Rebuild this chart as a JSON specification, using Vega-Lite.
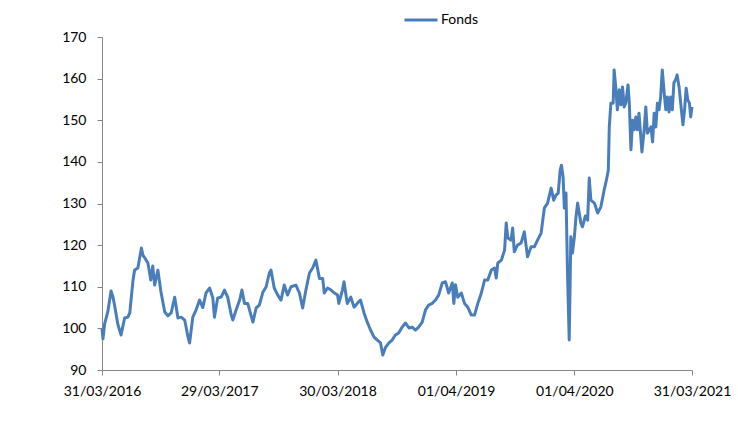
{
  "$schema": "https://vega.github.io/schema/vega-lite/v6.json",
  "width": 590,
  "height": 333,
  "autosize": {"type": "none"},
  "padding": {"left": 102, "top": 37, "right": 46, "bottom": 70},
  "background": "white",
  "config": {
    "view": {"stroke": null},
    "axis": {
      "labelFont": "Lato",
      "labelFontSize": 14,
      "labelColor": "#000000",
      "domainColor": "#868686",
      "tickColor": "#868686",
      "grid": false,
      "title": null
    },
    "legend": {
      "labelFont": "Lato",
      "labelFontSize": 14,
      "labelColor": "#000000"
    }
  },
  "data": {
    "values": [
      {"d":"2016-03-31","v":100},{"d":"2016-04-03","v":97.5},{"d":"2016-04-08","v":101},{"d":"2016-04-18","v":104},{"d":"2016-04-28","v":109},{"d":"2016-05-04","v":107.5},{"d":"2016-05-09","v":105.5},{"d":"2016-05-19","v":101},{"d":"2016-05-29","v":98.4},{"d":"2016-06-09","v":102.5},{"d":"2016-06-19","v":102.7},{"d":"2016-06-25","v":103.7},{"d":"2016-07-05","v":111.6},{"d":"2016-07-10","v":114},{"d":"2016-07-20","v":114.5},{"d":"2016-07-31","v":119.3},{"d":"2016-08-05","v":117.5},{"d":"2016-08-10","v":117},{"d":"2016-08-20","v":115.7},{"d":"2016-08-29","v":111.6},{"d":"2016-09-04","v":115},{"d":"2016-09-10","v":110.4},{"d":"2016-09-20","v":114},{"d":"2016-09-29","v":109},{"d":"2016-10-11","v":104},{"d":"2016-10-21","v":103},{"d":"2016-10-31","v":103.7},{"d":"2016-11-11","v":107.5},{"d":"2016-11-21","v":102.5},{"d":"2016-12-01","v":102.7},{"d":"2016-12-12","v":102},{"d":"2016-12-22","v":98},{"d":"2016-12-27","v":96.5},
      {"d":"2017-01-06","v":102.7},{"d":"2017-01-16","v":104.4},{"d":"2017-01-27","v":106.8},{"d":"2017-02-06","v":105},{"d":"2017-02-16","v":108.5},{"d":"2017-02-27","v":109.7},{"d":"2017-03-09","v":107.3},{"d":"2017-03-14","v":102.7},{"d":"2017-03-24","v":107.3},{"d":"2017-04-04","v":107.5},{"d":"2017-04-14","v":109.2},{"d":"2017-04-24","v":107.5},{"d":"2017-05-05","v":103.2},{"d":"2017-05-10","v":102},{"d":"2017-05-20","v":104.4},{"d":"2017-05-31","v":106.8},{"d":"2017-06-07","v":109.2},{"d":"2017-06-15","v":106},{"d":"2017-06-25","v":106},{"d":"2017-07-05","v":103.2},{"d":"2017-07-11","v":101.5},{"d":"2017-07-21","v":104.9},{"d":"2017-07-31","v":105.6},{"d":"2017-08-11","v":108.7},{"d":"2017-08-21","v":110},{"d":"2017-08-31","v":113.3},{"d":"2017-09-05","v":114},{"d":"2017-09-15","v":109.7},{"d":"2017-09-26","v":108},{"d":"2017-10-06","v":106.8},{"d":"2017-10-16","v":110.4},{"d":"2017-10-26","v":108},{"d":"2017-11-06","v":110},{"d":"2017-11-21","v":110.4},{"d":"2017-12-02","v":108.5},{"d":"2017-12-12","v":104.9},{"d":"2017-12-22","v":109.2},
      {"d":"2018-01-02","v":113.3},{"d":"2018-01-12","v":114.5},{"d":"2018-01-22","v":116.4},{"d":"2018-02-02","v":112},{"d":"2018-02-12","v":112},{"d":"2018-02-17","v":108.5},{"d":"2018-02-27","v":109.7},{"d":"2018-03-10","v":109.2},{"d":"2018-03-20","v":108.5},{"d":"2018-03-30","v":108},{"d":"2018-04-03","v":106},{"d":"2018-04-14","v":109.2},{"d":"2018-04-19","v":111.2},{"d":"2018-04-29","v":106},{"d":"2018-05-10","v":107.5},{"d":"2018-05-20","v":105.1},{"d":"2018-05-30","v":106},{"d":"2018-06-09","v":106.8},{"d":"2018-06-20","v":103.7},{"d":"2018-06-30","v":101.5},{"d":"2018-07-10","v":99.6},{"d":"2018-07-21","v":97.9},{"d":"2018-07-31","v":97.2},{"d":"2018-08-10","v":96.5},{"d":"2018-08-17","v":93.6},{"d":"2018-08-26","v":95.5},{"d":"2018-09-05","v":96.5},{"d":"2018-09-15","v":97.2},{"d":"2018-09-25","v":98.4},{"d":"2018-10-05","v":98.9},{"d":"2018-10-16","v":100.3},{"d":"2018-10-26","v":101.3},{"d":"2018-11-06","v":100.1},{"d":"2018-11-16","v":100.3},{"d":"2018-11-26","v":99.6},{"d":"2018-12-06","v":100.3},{"d":"2018-12-17","v":101.5},{"d":"2018-12-27","v":104.4},
      {"d":"2019-01-06","v":105.6},{"d":"2019-01-17","v":106},{"d":"2019-01-27","v":106.8},{"d":"2019-02-06","v":108},{"d":"2019-02-17","v":110.9},{"d":"2019-02-27","v":111.2},{"d":"2019-03-09","v":108.5},{"d":"2019-03-20","v":110.9},{"d":"2019-03-25","v":106},{"d":"2019-03-30","v":110.5},{"d":"2019-04-06","v":107.5},{"d":"2019-04-17","v":108.5},{"d":"2019-04-27","v":106},{"d":"2019-05-07","v":105.1},{"d":"2019-05-18","v":103.2},{"d":"2019-05-28","v":103.2},{"d":"2019-06-07","v":106},{"d":"2019-06-18","v":108.5},{"d":"2019-06-28","v":111.6},{"d":"2019-07-08","v":111.6},{"d":"2019-07-19","v":114},{"d":"2019-07-29","v":114.5},{"d":"2019-08-03","v":112.1},{"d":"2019-08-08","v":115.7},{"d":"2019-08-19","v":116.4},{"d":"2019-08-29","v":118.8},{"d":"2019-09-03","v":125.3},{"d":"2019-09-08","v":121.7},{"d":"2019-09-18","v":121.2},{"d":"2019-09-23","v":124.1},{"d":"2019-09-28","v":118.4},{"d":"2019-10-08","v":120},{"d":"2019-10-19","v":120.5},{"d":"2019-10-29","v":123.2},{"d":"2019-11-08","v":117.2},{"d":"2019-11-19","v":119.6},{"d":"2019-11-29","v":119.6},{"d":"2019-12-09","v":121.2},{"d":"2019-12-20","v":122.9},{"d":"2019-12-30","v":128.9},
      {"d":"2020-01-09","v":130.1},{"d":"2020-01-20","v":133.7},{"d":"2020-01-28","v":130.8},{"d":"2020-02-04","v":132},{"d":"2020-02-11","v":132.5},{"d":"2020-02-17","v":138},{"d":"2020-02-21","v":139.2},{"d":"2020-02-26","v":136.4},{"d":"2020-03-01","v":128.9},{"d":"2020-03-06","v":132.5},{"d":"2020-03-11","v":112.4},{"d":"2020-03-16","v":97.2},{"d":"2020-03-21","v":122},{"d":"2020-03-26","v":118.1},{"d":"2020-04-01","v":122},{"d":"2020-04-06","v":126.8},{"d":"2020-04-11","v":130.1},{"d":"2020-04-21","v":125.3},{"d":"2020-04-26","v":124.4},{"d":"2020-05-05","v":127},{"d":"2020-05-12","v":126},{"d":"2020-05-17","v":136.1},{"d":"2020-05-22","v":130.8},{"d":"2020-06-02","v":130.1},{"d":"2020-06-12","v":127.7},{"d":"2020-06-22","v":129.2},{"d":"2020-07-02","v":133.2},{"d":"2020-07-09","v":135.6},{"d":"2020-07-15","v":138},{"d":"2020-07-18","v":148.4},{"d":"2020-07-23","v":154.1},{"d":"2020-07-30","v":154.1},{"d":"2020-08-02","v":162.1},{"d":"2020-08-07","v":158},{"d":"2020-08-12","v":152.5},{"d":"2020-08-18","v":157.3},{"d":"2020-08-23","v":153.7},{"d":"2020-08-28","v":158},{"d":"2020-09-02","v":153.2},{"d":"2020-09-07","v":154.1},{"d":"2020-09-14","v":158.5},{"d":"2020-09-18","v":154.1},{"d":"2020-09-23","v":142.9},{"d":"2020-09-28","v":150},{"d":"2020-10-03","v":147.7},{"d":"2020-10-08","v":150.8},{"d":"2020-10-13","v":147.7},{"d":"2020-10-18","v":151.7},{"d":"2020-10-27","v":142.4},{"d":"2020-11-03","v":147.7},{"d":"2020-11-08","v":153.2},{"d":"2020-11-13","v":146.9},{"d":"2020-11-24","v":148.4},{"d":"2020-11-29","v":144.8},{"d":"2020-12-04","v":151.7},{"d":"2020-12-09","v":148.4},{"d":"2020-12-14","v":154.1},{"d":"2020-12-19","v":152.5},{"d":"2020-12-24","v":155.6},{"d":"2020-12-29","v":162.1},
      {"d":"2021-01-04","v":156.5},{"d":"2021-01-09","v":152.5},{"d":"2021-01-14","v":155.6},{"d":"2021-01-19","v":152},{"d":"2021-01-24","v":155.6},{"d":"2021-01-29","v":152.5},{"d":"2021-02-03","v":159},{"d":"2021-02-08","v":159.7},{"d":"2021-02-13","v":160.9},{"d":"2021-02-19","v":158},{"d":"2021-02-24","v":154.1},{"d":"2021-03-03","v":148.9},{"d":"2021-03-08","v":152.5},{"d":"2021-03-13","v":157.7},{"d":"2021-03-18","v":154.9},{"d":"2021-03-23","v":154.1},{"d":"2021-03-27","v":150.8},{"d":"2021-03-31","v":153.2}
    ]
  },
  "mark": {"type": "line", "strokeWidth": 3, "strokeJoin": "round"},
  "encoding": {
    "x": {
      "field": "d",
      "type": "temporal",
      "scale": {
        "type": "utc",
        "domain": [
          {"year": 2016, "month": 3, "date": 31, "utc": true},
          {"year": 2021, "month": 3, "date": 31, "utc": true}
        ]
      },
      "axis": {
        "values": [
          {"year": 2016, "month": 3, "date": 31, "utc": true},
          {"year": 2017, "month": 3, "date": 29, "utc": true},
          {"year": 2018, "month": 3, "date": 30, "utc": true},
          {"year": 2019, "month": 4, "date": 1, "utc": true},
          {"year": 2020, "month": 4, "date": 1, "utc": true},
          {"year": 2021, "month": 3, "date": 31, "utc": true}
        ],
        "labelExpr": "utcFormat(datum.value, '%d/%m/%Y')",
        "tickSize": 5,
        "labelPadding": 9,
        "labelFlush": false,
        "labelOverlap": false
      }
    },
    "y": {
      "field": "v",
      "type": "quantitative",
      "scale": {"domain": [90, 170], "nice": false, "zero": false},
      "axis": {
        "values": [90, 100, 110, 120, 130, 140, 150, 160, 170],
        "tickSize": 5,
        "labelPadding": 11
      }
    },
    "color": {
      "datum": "Fonds",
      "scale": {"range": ["#4a7ebb"]},
      "legend": {
        "title": null,
        "orient": "none",
        "legendX": 301,
        "legendY": -35,
        "symbolType": "stroke",
        "symbolSize": 1089,
        "symbolStrokeWidth": 3,
        "labelOffset": 2
      }
    }
  }
}
